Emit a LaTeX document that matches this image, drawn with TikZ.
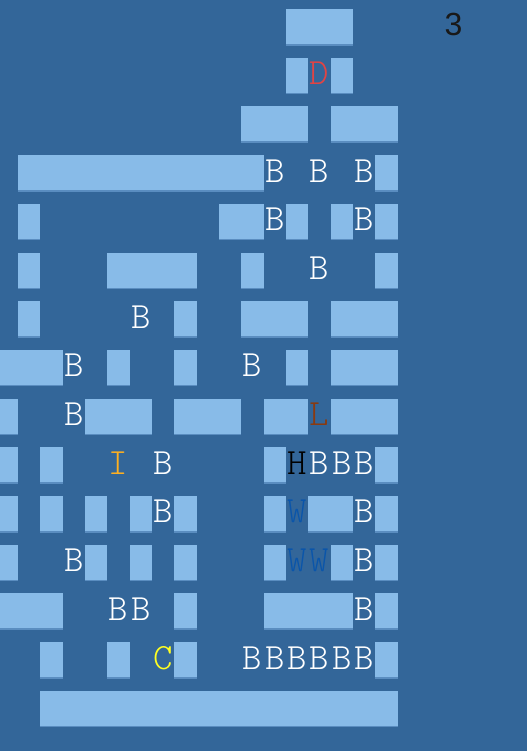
\documentclass[tikz,border=0pt]{standalone}
\usepackage{fontspec}
\newfontfamily\numfont{Liberation Sans}
\newfontfamily\tilefont{Latin Modern Mono Light}
\definecolor{bgblue}{HTML}{336699}
\definecolor{tileblue}{HTML}{88BBE8}
\definecolor{tileedge}{HTML}{5A8DC0}
\definecolor{doorred}{HTML}{E04444}
\definecolor{ladderbrown}{HTML}{8A3A10}
\definecolor{itemorange}{HTML}{FFB020}
\definecolor{waterblue}{HTML}{0A55AA}
\definecolor{coinyellow}{HTML}{FFFF22}
\tikzset{
  tile/.style={fill=tileblue},
  tilebase/.style={fill=tileedge},
  glyph/.style={anchor=base, inner sep=0pt, text=white,
    font=\tilefont\fontsize{37}{40}\selectfont}
}
\begin{document}
\begin{tikzpicture}[x=22.33pt, y=-48.7pt]
\fill[bgblue] (0pt,0pt) rectangle (527pt,-751pt);
\useasboundingbox (0pt,0pt) rectangle (527pt,-751pt);
\begin{scope}[shift={(-4.33pt,-9pt)}]
            % Walls (row/first column/last column)
            \foreach \r/\a/\b in {0/13/15, 1/13/13, 1/15/15, 2/11/13, 2/15/17,
                3/1/11, 3/17/17,
                4/1/1, 4/10/11, 4/13/13, 4/15/15, 4/17/17,
                5/1/1, 5/5/8, 5/11/11, 5/17/17,
                6/1/1, 6/8/8, 6/11/13, 6/15/17,
                7/0/2, 7/5/5, 7/8/8, 7/13/13, 7/15/17,
                8/0/0, 8/4/6, 8/8/10, 8/12/13, 8/15/17,
                9/0/0, 9/2/2, 9/12/12, 9/17/17,
                10/0/0, 10/2/2, 10/4/4, 10/6/6, 10/8/8, 10/12/12, 10/14/15, 10/17/17,
                11/0/0, 11/4/4, 11/6/6, 11/8/8, 11/12/12, 11/15/15, 11/17/17,
                12/0/2, 12/8/8, 12/12/15, 12/17/17,
                13/2/2, 13/5/5, 13/8/8, 13/17/17,
                14/2/17} {
              \fill[tile] (\a,\r) rectangle ({\b+1},{\r+0.719});
              \fill[tilebase] (\a,{\r+0.719}) rectangle ({\b+1},{\r+0.75});
            }

            % Level number
            \node[anchor=base, inner sep=0pt, text=black!90,
              font=\numfont\fontsize{32}{36}\selectfont] (level) at (20.5,0.554) {3};

            % Door
            \node[glyph, text=doorred] (door) at (14.5,1.554) {D};

            % Boxes (row/column)
            \foreach \r/\k in {3/12, 3/14, 3/16, 4/12, 4/16, 5/14, 6/6,
                7/3, 7/11, 8/3, 9/7, 9/14, 9/15, 9/16, 10/7, 10/16,
                11/3, 11/16, 12/5, 12/6, 12/16,
                13/11, 13/12, 13/13, 13/14, 13/15, 13/16} {
              \node[glyph] (b\r-\k) at ({\k+0.5},{\r+0.554}) {B};
            }

            % Ladder, item, hero, water, coin
            \node[glyph, text=ladderbrown] (ladder) at (14.5,8.554) {L};
            \node[glyph, text=itemorange] (item) at (5.5,9.554) {I};
            \node[glyph, text=black] (hero) at (13.5,9.554) {H};
            \node[glyph, text=waterblue] (water1) at (13.5,10.554) {W};
            \node[glyph, text=waterblue] (water2) at (13.5,11.554) {W};
            \node[glyph, text=waterblue] (water3) at (14.5,11.554) {W};
            \node[glyph, text=coinyellow] (coin) at (7.5,13.554) {C};
\end{scope}
\end{tikzpicture}
\end{document}
